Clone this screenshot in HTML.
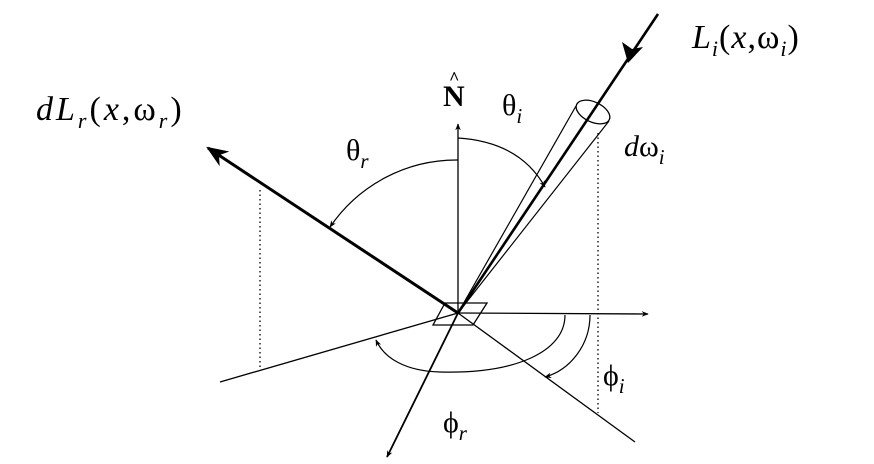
<!DOCTYPE html>
<html><head><meta charset="utf-8"><style>
html,body{margin:0;padding:0;background:#fff;}
svg{display:block;}
text{font-family:"Liberation Serif",serif;fill:#000;}
</style></head><body>
<svg width="874" height="464" viewBox="0 0 874 464" xmlns="http://www.w3.org/2000/svg">
<defs>
<marker id="a" viewBox="0 0 10 10" refX="9" refY="5" markerWidth="7" markerHeight="7" orient="auto" markerUnits="userSpaceOnUse"><path d="M0,1 L10,5 L0,9 L3,5 Z" fill="#000"/></marker>
<marker id="big" viewBox="0 0 10 10" refX="9" refY="5" markerWidth="22" markerHeight="22" orient="auto" markerUnits="userSpaceOnUse"><path d="M0,1 L10,5 L0,9 L3,5 Z" fill="#000"/></marker>
</defs>
<g stroke="#000" fill="none">
<line x1="260" y1="190" x2="260" y2="368" stroke-dasharray="1.5,3" stroke-width="1.3"/>
<line x1="598" y1="133" x2="598" y2="413" stroke-dasharray="1.5,3" stroke-width="1.3"/>
<line x1="458" y1="313" x2="458" y2="124" stroke-width="1.3" marker-end="url(#a)"/>
<line x1="458" y1="313" x2="648" y2="314" stroke-width="1.3" marker-end="url(#a)"/>
<line x1="220" y1="382" x2="458" y2="313" stroke-width="1.3"/>
<line x1="458" y1="313" x2="635" y2="442" stroke-width="1.3"/>
<line x1="458" y1="313" x2="387" y2="457" stroke-width="1.8" marker-end="url(#a)"/>
<line x1="458" y1="313" x2="208" y2="148" stroke-width="3" marker-end="url(#big)"/>
<line x1="658" y1="14" x2="458" y2="313" stroke-width="2.6"/>
<path d="M628,63 L622,42 L632,49 L643,47 Z" fill="#000" stroke="none"/>
<line x1="458" y1="313" x2="576" y2="106" stroke-width="1.2"/>
<line x1="458" y1="313" x2="609" y2="121" stroke-width="1.2"/>
<ellipse cx="593" cy="112" rx="18" ry="10" transform="rotate(25 593 112)" stroke-width="1.3"/>
<path d="M445,303 L487,303 L473,325 L433,325 Z" stroke-width="1.3"/>
<path d="M458,160 A153,153 0 0 0 330,227" stroke-width="1.2" marker-end="url(#a)"/>
<path d="M458,138 Q520,142 545,187" stroke-width="1.2" marker-end="url(#a)"/>
<path d="M565,315 C565,352 515,374 440,372 C405,371 384,358 376,340" stroke-width="1.2" marker-end="url(#a)"/>
<path d="M590,315 C590,345 570,370 545,377" stroke-width="1.2" marker-end="url(#a)"/>
</g>
<text x="443" y="106" font-size="30" font-weight="bold">N</text>
<text x="449" y="84" font-size="18" font-weight="bold">^</text>
<text x="346" y="160" font-size="30">θ<tspan font-size="21" font-style="italic" dy="8">r</tspan></text>
<text x="502" y="115" font-size="30">θ<tspan font-size="21" font-style="italic" dy="8">i</tspan></text>
<text x="624" y="156" font-size="30"><tspan font-style="italic">d</tspan>ω<tspan font-size="21" font-style="italic" dy="8">i</tspan></text>
<text x="692" y="48" font-size="34" letter-spacing="1"><tspan font-style="italic">L</tspan><tspan font-size="22" font-style="italic" dy="8">i</tspan><tspan dy="-8">(</tspan><tspan font-style="italic">x</tspan>,ω<tspan font-size="22" font-style="italic" dy="8">i</tspan><tspan dy="-8">)</tspan></text>
<text x="36" y="120" font-size="34" letter-spacing="3"><tspan font-style="italic">dL</tspan><tspan font-size="22" font-style="italic" dy="8">r</tspan><tspan dy="-8">(</tspan><tspan font-style="italic">x</tspan>,ω<tspan font-size="22" font-style="italic" dy="8">r</tspan><tspan dy="-8">)</tspan></text>
<text x="603" y="385" font-size="30">ϕ<tspan font-size="21" font-style="italic" dy="8">i</tspan></text>
<text x="443" y="432" font-size="30">ϕ<tspan font-size="21" font-style="italic" dy="8">r</tspan></text>
</svg>
</body></html>
